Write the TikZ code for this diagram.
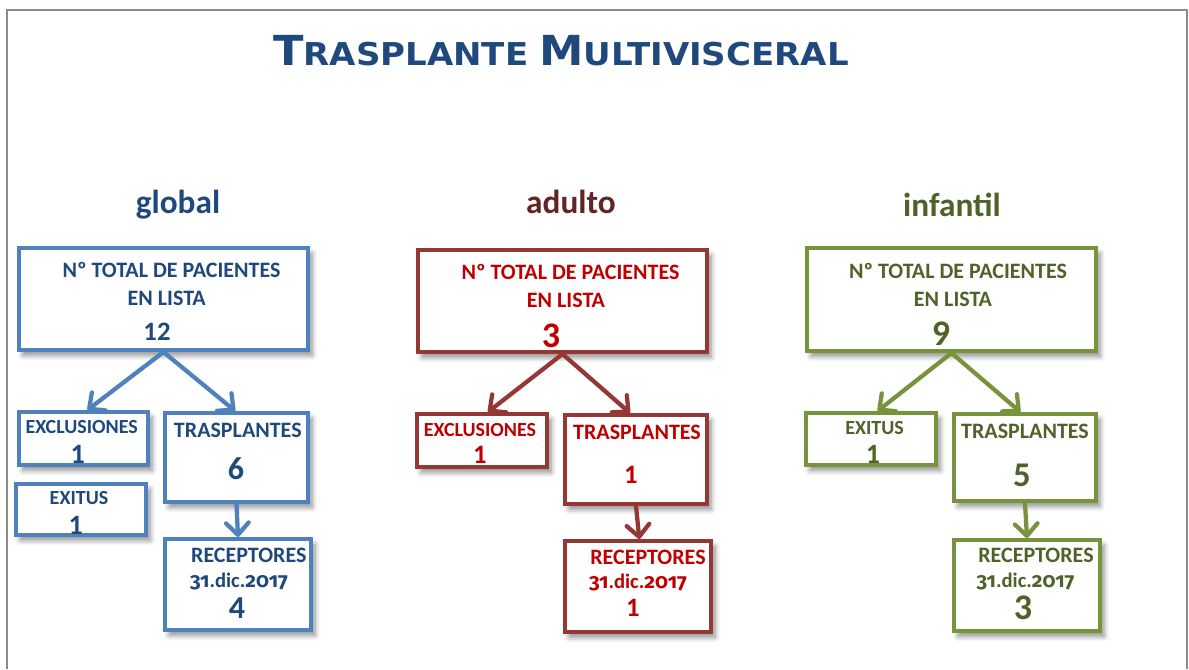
\documentclass[tikz,border=0pt]{standalone}
\usepackage{fontspec}
\setmainfont{Carlito}
\newfontfamily\titlefont{DejaVu Sans}
\newfontfamily\digfont{Fira Sans}[Numbers=OldStyle]
\usetikzlibrary{arrows.meta,shadows.blur}

\definecolor{titleblue}{HTML}{1F497D}
\definecolor{framegray}{HTML}{8C8C8C}
\definecolor{shadowblue}{HTML}{9FB5D6}
\definecolor{gline}{HTML}{4F81BD}
\definecolor{gtext}{HTML}{1F497D}
\definecolor{aline}{HTML}{953735}
\definecolor{atext}{HTML}{C00000}
\definecolor{ahead}{HTML}{632523}
\definecolor{iline}{HTML}{77933C}
\definecolor{itext}{HTML}{4F6228}

\newcommand{\fecha}{{\digfont 31}.dic.{\digfont 2017}}

\tikzset{
	box/.style={draw, line width=3pt, inner sep=0pt,
		blur shadow={shadow xshift=3pt, shadow yshift=-4pt, shadow blur radius=4pt, shadow blur steps=6, shadow opacity=45, fill=shadowblue}, fill=white},
	boxsize/.style 2 args={minimum width=#1*0.75pt, minimum height=#2*0.75pt},
	gbox/.style={box, draw=gline},
	abox/.style={box, draw=aline},
	ibox/.style={box, draw=iline},
	arr/.style={line width=3.2pt, line cap=round, line join=round, -{Straight Barb[length=9pt, width=17pt, line cap=round, line join=round]}},
	head/.style={font=\bfseries\fontsize{25}{28}\selectfont, anchor=base, inner sep=0pt},
	txt/.style={font=\bfseries\fontsize{16.5}{18}\selectfont, anchor=base, inner sep=0pt},
	smalltxt/.style={font=\bfseries\fontsize{15}{17}\selectfont, anchor=base, inner sep=0pt},
	datetxt/.style={font=\bfseries\fontsize{15.5}{17}\selectfont, anchor=base, inner sep=0pt},
	num/.style={font=\bfseries\fontsize{#1}{#1}\selectfont, anchor=base, inner sep=0pt}
}

\begin{document}
\begin{tikzpicture}[x=0.75pt, y=-0.75pt]
		\useasboundingbox (0,0) rectangle (1189,669);
		%frame
			\draw [framegray, line width=1.5pt] (7,669) -- (7,10) -- (1187,10) -- (1187,669);
		%title
			\node (title) [anchor=base west, inner sep=0pt, xscale=1.08, transform shape, text=titleblue, font=\titlefont\bfseries] at (273,65) {{\fontsize{31}{31}\selectfont T}{\fontsize{23.6}{24}\selectfont RASPLANTE}\hspace{4pt} {\fontsize{31}{31}\selectfont M}{\fontsize{23.6}{24}\selectfont ULTIVISCERAL}};

		%global
			\node (ghead) [head, text=gtext] at (178,213) {global};
			\node (gtotal) [gbox, boxsize={289}{102}] at (163.5,299) {};
			\node (gexcl) [gbox, boxsize={129}{53}] at (83.5,438.5) {};
			\node (gexit) [gbox, boxsize={130}{51}] at (81,509.5) {};
			\node (gtras) [gbox, boxsize={143}{89}] at (236.5,457.5) {};
			\node (grec) [gbox, boxsize={146}{91}] at (238,584.5) {};
			\draw [arr, gline] (gtotal.south) -- ([xshift=3pt]gexcl.north);
			\draw [arr, gline] (gtotal.south) -- ([xshift=-1pt]gtras.north);
			\draw [arr, gline] (gtras.south) -- (grec.north);
			\begin{scope}[text=gtext]
				\node (gtot1) [txt] at (171.5,277) {Nº TOTAL DE PACIENTES};
				\node (gtot2) [txt] at (166.7,305) {EN LISTA};
				\node (gtotn) [num=20] at (157,340) {12};
				\node (gexcl1) [smalltxt] at (81.7,433) {EXCLUSIONES};
				\node (gexcln) [num=21] at (77.7,463) {1};
				\node (gexit1) [smalltxt] at (79,504) {EXITUS};
				\node (gexitn) [num=21] at (75.7,534) {1};
				\node (gtras1) [txt] at (237.8,437) {TRASPLANTES};
				\node (gtrasn) [num=24] at (236,479) {6};
				\node (grec1) [txt] at (248.8,562) {RECEPTORES};
				\node (grec2) [datetxt] at (239,587) {\fecha};
				\node (grecn) [num=24] at (237,618) {4};
			\end{scope}

		%adulto
			\node (ahead) [head, text=ahead] at (571,213) {adulto};
			\node (atotal) [abox, boxsize={289}{102}] at (562.5,301) {};
			\node (aexcl) [abox, boxsize={130}{53}] at (482,440.5) {};
			\node (atras) [abox, boxsize={142}{89}] at (636,459.5) {};
			\node (arec) [abox, boxsize={146}{91}] at (638,586.5) {};
			\draw [arr, aline] (atotal.south) -- ([xshift=4.5pt]aexcl.north);
			\draw [arr, aline] (atotal.south) -- ([xshift=-4.5pt]atras.north);
			\draw [arr, aline] (atras.south) -- ([xshift=1pt]arec.north);
			\begin{scope}[text=atext]
				\node (atot1) [txt] at (570.5,279) {Nº TOTAL DE PACIENTES};
				\node (atot2) [txt] at (566,307) {EN LISTA};
				\node (atotn) [num=27] at (551,347) {3};
				\node (aexcl1) [smalltxt] at (480,436) {EXCLUSIONES};
				\node (aexcln) [num=20] at (480,463) {1};
				\node (atras1) [txt] at (637,439) {TRASPLANTES};
				\node (atrasn) [num=20] at (631,483) {1};
				\node (arec1) [txt] at (648,564) {RECEPTORES};
				\node (arec2) [datetxt] at (638,588) {\fecha};
				\node (arecn) [num=20] at (633,616) {1};
			\end{scope}

		%infantil
			\node (ihead) [head, text=itext] at (952,216) {infantil};
			\node (itotal) [ibox, boxsize={289}{103}] at (951.5,299.5) {};
			\node (iexit) [ibox, boxsize={130}{52}] at (871,439) {};
			\node (itras) [ibox, boxsize={142}{87}] at (1025,457.5) {};
			\node (irec) [ibox, boxsize={146}{91}] at (1027,585.5) {};
			\draw [arr, iline] (itotal.south) -- ([xshift=5pt]iexit.north);
			\draw [arr, iline] (itotal.south) -- ([xshift=-3.5pt]itras.north);
			\draw [arr, iline] (itras.south) -- (irec.north);
			\begin{scope}[text=itext]
				\node (itot1) [txt] at (958,278) {Nº TOTAL DE PACIENTES};
				\node (itot2) [txt] at (953,306) {EN LISTA};
				\node (itotn) [num=27] at (941,345) {9};
				\node (iexit1) [smalltxt] at (874.5,434) {EXITUS};
				\node (iexitn) [num=21] at (873,463) {1};
				\node (itras1) [txt] at (1025,438) {TRASPLANTES};
				\node (itrasn) [num=26] at (1022,486) {5};
				\node (irec1) [txt] at (1036,562) {RECEPTORES};
				\node (irec2) [datetxt] at (1025.5,587) {\fecha};
				\node (irecn) [num=27] at (1023,619) {3};
			\end{scope}
	\end{tikzpicture}
\end{document}
